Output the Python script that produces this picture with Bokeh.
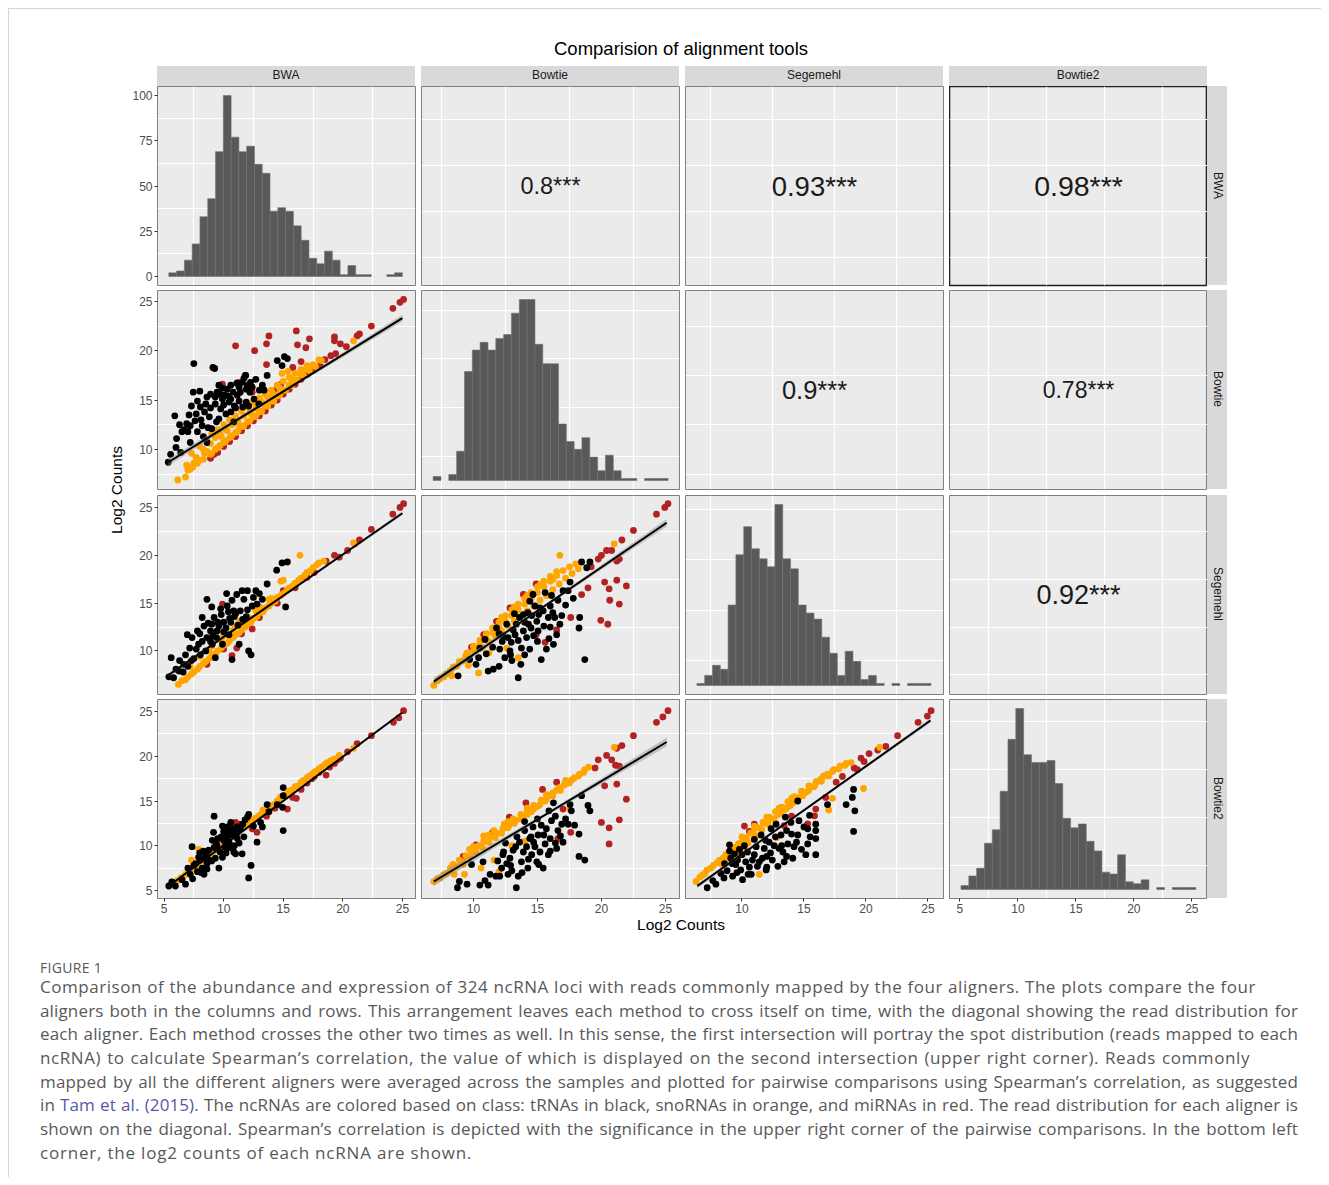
from bokeh.plotting import figure
from bokeh.models import Div, FixedTicker, Range1d
from bokeh.layouts import row, column
from bokeh.embed import file_html
from bokeh.resources import INLINE
from bokeh.core.properties import value

# ---------------- data ----------------
ALIGNERS = ["BWA", "Bowtie", "Segemehl", "Bowtie2"]
AXIS_LIMITS = {"BWA": (4.45, 26.1), "Bowtie": (5.94, 26.1),
               "Segemehl": (5.45, 26.25), "Bowtie2": (4.1, 26.35)}
LOG2_TICKS = [5, 10, 15, 20, 25]
COUNT_TICKS = [0, 25, 50, 75, 100]
LOG2_GRID = [7.5, 12.5, 17.5, 22.5]
COUNT_GRID = [12.5, 37.5, 62.5, 87.5]

# histograms on the diagonal (30 bins between lo and hi)
hist_range = {"BWA": (5.40, 25.0), "Bowtie": (6.85, 25.21),
              "Segemehl": (6.37, 25.24), "Bowtie2": (5.09, 25.35)}
bwa_counts = [2, 3, 9, 18, 33, 43, 69, 100, 77, 69, 72, 62, 57, 36, 38,
              36, 28, 20, 10, 7, 14, 9, 1, 6, 1, 1, 0, 0, 1, 2]
bowtie_counts = [2, 0, 3, 15, 56, 67, 71, 67, 73, 75, 86, 93, 93, 70, 60,
                 60, 29, 20, 16, 22, 12, 5, 13, 5, 1, 1, 0, 1, 1, 1]
segemehl_counts = [1, 5, 10, 8, 40, 65, 79, 68, 63, 59, 90, 63, 58, 40, 36,
                   33, 24, 16, 5, 17, 12, 3, 5, 1, 0, 1, 0, 1, 1, 1]
bowtie2_counts = [2, 7, 11, 24, 31, 51, 78, 94, 70, 66, 66, 67, 55, 37, 32,
                  34, 25, 20, 9, 8, 18, 4, 3, 5, 0, 1, 0, 1, 1, 1]
HIST_COUNTS = {"BWA": bwa_counts, "Bowtie": bowtie_counts,
               "Segemehl": segemehl_counts, "Bowtie2": bowtie2_counts}

# Spearman correlations (upper triangle)
cor_labels = {(0, 1): "0.8***", (0, 2): "0.93***", (0, 3): "0.98***",
              (1, 2): "0.9***", (1, 3): "0.78***", (2, 3): "0.92***"}

# scatter points (x = column aligner, y = row aligner), per ncRNA class
bwa_bowtie_trna = [(5.35, 8.7), (5.55, 9.5), (5.9, 13.4), (6.05, 11.1), (6.4, 9.7), (6.5, 11.8), (6.9, 12.6),
    (7.1, 13.5), (7.2, 10.7), (7.45, 15.8), (7.5, 18.7), (7.8, 11.8), (7.8, 14.9), (8.05, 14.3), (8.2, 12.4),
    (8.4, 13.8), (8.6, 15.3), (8.6, 10.7), (8.8, 13.3), (9.1, 18.3), (9.25, 18.2), (9.3, 14.6), (9.45, 15.8),
    (9.6, 16.5), (9.6, 13.1), (9.75, 14.1), (9.9, 15.1), (10.1, 15.5), (10.3, 16.1), (10.45, 14.8), (10.6, 16.5),
    (10.8, 15.8), (10.85, 12.8), (10.9, 14.4), (11.15, 15.5), (11.3, 16.3), (11.4, 15.8), (11.55, 16.8),
    (11.7, 17.2), (11.85, 17.5), (12.0, 16.5), (12.25, 16.8), (12.55, 15.1), (12.95, 14.6), (13.25, 16.5),
    (13.65, 17.5), (14.5, 19.0), (14.9, 18.5), (15.35, 19.2), (15.1, 19.4), (8.0, 15.9), (8.9, 15.6),
    (9.9, 16.2), (10.4, 15.4), (11.0, 14.2), (7.3, 14.4), (6.3, 12.5), (7.0, 11.8), (8.3, 11.3), (9.0, 12.1),
    (10.2, 13.6), (11.6, 14.3), (12.2, 15.8), (13.0, 16.0), (11.9, 14.8), (6.0, 10.2), (7.6, 12.9),
    (6.7, 12.0), (7.2, 12.4), (7.7, 13.6), (8.1, 13.0), (8.5, 14.6), (8.9, 14.2), (9.3, 15.3), (9.7, 15.6),
    (10.0, 14.5), (10.6, 15.1), (11.1, 16.7), (11.9, 16.1), (12.4, 16.3), (12.7, 17.1), (13.4, 16.0),
    (8.7, 12.2), (9.4, 12.8), (10.6, 13.8), (11.3, 14.9), (12.1, 14.4)]
bwa_bowtie_snorna = [(6.15, 6.9), (6.8, 7.2), (7.2, 8.0), (7.5, 8.6), (7.3, 9.6), (8.0, 8.9), (8.0, 10.3),
    (8.4, 9.6), (8.6, 11.0), (9.0, 9.6), (9.0, 11.6), (9.5, 10.2), (9.5, 12.0), (10.0, 10.7), (10.0, 12.5),
    (10.5, 11.2), (10.5, 13.0), (11.0, 11.7), (11.0, 13.4), (11.5, 12.3), (11.5, 13.9), (12.0, 12.8),
    (12.0, 14.3), (12.5, 13.3), (12.5, 14.8), (13.0, 13.8), (13.0, 15.2), (13.5, 14.4), (13.5, 15.6),
    (14.0, 14.9), (14.0, 16.0), (14.5, 15.4), (14.5, 16.5), (15.0, 16.0), (15.0, 16.9), (15.5, 16.5),
    (15.5, 17.3), (16.0, 17.0), (16.0, 17.7), (16.5, 17.6), (16.5, 18.1), (17.0, 18.1), (17.0, 18.5),
    (17.5, 18.6), (18.0, 19.1), (14.9, 17.7), (15.4, 17.9), (20.9, 21.0), (6.9, 8.4), (7.7, 9.2), (8.6, 9.8),
    (9.8, 11.3), (11.2, 12.6), (12.8, 14.1), (14.2, 15.6), (10.3, 11.9), (12.3, 13.6), (13.8, 15.2),
    (8.3, 9.0), (8.3, 10.0), (8.9, 9.5), (8.9, 10.6), (9.3, 10.0), (9.3, 11.2), (9.7, 10.4), (9.7, 11.6),
    (10.2, 10.9), (10.2, 12.0), (10.7, 11.4), (10.7, 12.5), (11.2, 11.9), (11.2, 13.0), (11.7, 12.4),
    (11.7, 13.4), (12.2, 12.9), (12.2, 13.9), (12.7, 13.4), (12.7, 14.4), (13.2, 13.9), (13.2, 14.8),
    (13.7, 14.4), (13.7, 15.3), (14.2, 14.9), (14.7, 15.5), (14.7, 16.2), (15.2, 16.0), (15.7, 16.5),
    (15.7, 17.1), (16.2, 17.0), (16.7, 17.5), (17.2, 18.0), (17.7, 18.4), (18.2, 19.0), (7.0, 7.9),
    (7.4, 8.2), (7.8, 8.6)]
bwa_bowtie_mirna = [(11.0, 20.5), (12.6, 20.0), (13.6, 20.7), (13.8, 21.5), (13.6, 18.6), (16.1, 22.0),
    (17.2, 21.2), (16.2, 20.6), (16.9, 20.3), (16.5, 18.9), (15.8, 18.3), (19.3, 21.4), (19.3, 21.0),
    (19.8, 20.7), (20.3, 20.4), (21.2, 21.5), (21.4, 21.7), (22.4, 22.5), (24.2, 24.3), (24.8, 24.9),
    (25.1, 25.2), (19.4, 19.7), (19.0, 19.5), (18.1, 18.5), (14.8, 16.6), (14.5, 16.2), (9.2, 9.5),
    (9.9, 16.6), (11.2, 16.8), (12.4, 15.8), (14.2, 15.7), (8.9, 9.1), (10.0, 10.3), (11.0, 11.3),
    (12.0, 12.4), (13.0, 13.4), (14.0, 14.5), (15.0, 15.6), (16.0, 16.6), (17.0, 17.6), (11.8, 17.5),
    (9.5, 9.7), (10.5, 10.8), (11.5, 11.9), (12.5, 12.9), (13.5, 13.9), (14.5, 15.0), (15.5, 16.1),
    (16.5, 17.1), (17.5, 18.0), (18.5, 19.1)]

bwa_segemehl_trna = [(5.4, 7.3), (5.8, 7.2), (5.6, 9.3), (6.25, 7.9), (6.65, 8.6), (6.8, 9.6), (6.95, 11.7),
    (7.15, 10.3), (7.35, 11.4), (7.8, 12.1), (7.9, 10.7), (8.05, 9.6), (8.2, 13.5), (8.35, 12.6), (8.5, 10.0),
    (8.6, 11.4), (8.6, 15.4), (8.9, 12.1), (9.05, 10.7), (9.2, 13.5), (9.3, 9.3), (9.45, 12.1), (9.75, 14.4),
    (9.9, 10.7), (10.0, 13.0), (10.25, 16.0), (10.3, 14.7), (10.45, 11.7), (10.7, 9.1), (10.85, 14.2),
    (11.1, 15.9), (11.3, 10.7), (11.55, 16.3), (11.7, 15.4), (12.0, 16.3), (12.1, 10.0), (12.3, 9.6),
    (12.4, 14.7), (12.8, 14.9), (13.25, 15.4), (13.65, 17.0), (14.45, 18.45), (14.9, 19.2), (15.35, 19.3),
    (15.2, 14.6), (9.5, 13.0), (10.5, 13.4), (11.0, 13.9), (9.0, 14.6), (10.7, 15.3), (11.4, 14.2), (7.5, 9.2),
    (8.9, 11.0), (6.3, 9.0), (7.0, 8.4), (9.4, 11.4), (10.0, 12.0), (11.9, 13.6), (12.7, 16.3),
    (7.3, 9.0), (7.7, 10.2), (8.2, 11.0), (8.7, 12.9), (9.1, 11.6), (9.6, 12.6), (9.8, 13.8), (10.2, 12.4),
    (10.6, 13.0), (10.9, 13.6), (11.2, 12.7), (11.6, 13.3), (8.0, 11.8), (9.0, 12.8), (10.4, 14.1),
    (12.0, 14.3), (12.5, 15.6), (13.0, 16.0), (6.0, 8.1), (6.6, 7.8)]
bwa_segemehl_snorna = [(6.2, 6.5), (6.5, 6.9), (7.0, 7.3), (7.5, 7.8), (8.0, 8.4), (8.0, 9.4), (8.5, 8.9),
    (9.0, 9.4), (9.0, 10.5), (9.5, 10.0), (10.0, 10.6), (10.0, 11.6), (10.5, 11.1), (11.0, 11.7), (11.0, 12.6),
    (11.5, 12.2), (12.0, 12.8), (12.0, 13.6), (12.5, 13.4), (13.0, 14.0), (13.0, 14.6), (13.5, 14.5),
    (14.0, 15.0), (14.0, 15.5), (14.5, 15.6), (15.0, 16.0), (15.5, 16.6), (16.0, 17.1), (16.5, 17.6),
    (17.0, 18.2), (17.5, 18.7), (18.0, 19.2), (14.8, 17.3), (15.0, 17.4), (16.4, 20.0), (20.9, 21.3),
    (7.2, 8.4), (9.6, 11.2), (11.3, 13.1), (12.7, 14.2), (6.8, 7.0), (7.3, 7.6), (7.8, 8.1), (8.3, 8.7),
    (8.8, 9.2), (9.3, 9.7), (9.8, 10.3), (10.3, 10.8), (10.8, 11.4), (11.3, 11.9), (11.8, 12.5), (12.3, 13.0),
    (12.8, 13.6), (13.3, 14.1), (13.8, 14.7), (14.3, 15.2), (14.8, 15.8), (15.3, 16.3), (15.8, 16.8),
    (16.3, 17.4), (16.8, 17.9), (17.3, 18.4), (17.8, 19.0), (18.4, 19.4), (8.8, 10.0), (9.8, 11.2),
    (10.8, 12.2), (11.8, 13.3), (12.8, 14.3), (13.8, 15.4)]
bwa_segemehl_mirna = [(9.9, 14.9), (10.7, 9.5), (11.1, 10.3), (15.0, 16.3), (15.5, 16.5), (14.2, 15.2),
    (18.6, 19.4), (19.3, 20.0), (19.7, 19.8), (20.4, 20.5), (21.0, 21.2), (21.4, 21.6), (22.4, 22.7),
    (24.2, 24.3), (24.8, 25.0), (25.1, 25.4), (17.6, 18.2), (17.0, 17.7), (8.6, 8.6), (10.0, 10.2),
    (11.5, 11.8), (13.0, 13.5), (14.5, 15.0), (16.0, 16.6), (12.4, 12.3)]

bwa_bowtie2_trna = [(5.4, 5.5), (5.65, 5.95), (5.95, 5.5), (6.5, 6.2), (6.8, 5.7), (7.0, 7.5), (7.2, 6.8),
    (7.35, 9.9), (7.65, 8.0), (7.8, 7.1), (8.05, 8.4), (8.2, 7.5), (8.35, 6.8), (8.55, 9.0), (8.6, 8.0),
    (8.75, 9.5), (9.05, 10.6), (9.15, 11.5), (9.2, 13.3), (9.3, 8.6), (9.45, 9.9), (9.6, 7.5), (9.8, 11.0),
    (9.9, 12.2), (10.1, 9.9), (10.15, 11.3), (10.3, 12.1), (10.45, 10.4), (10.6, 12.6), (10.7, 11.2),
    (10.85, 9.3), (11.0, 9.1), (11.15, 10.8), (11.15, 12.1), (11.4, 11.9), (11.55, 9.1), (11.7, 11.0),
    (12.0, 13.2), (12.1, 13.5), (12.3, 7.8), (12.1, 6.4), (12.8, 10.4), (13.1, 12.6), (13.25, 12.1),
    (13.65, 14.6), (13.8, 13.8), (14.5, 14.6), (15.0, 16.5), (15.0, 15.6), (14.95, 14.3), (15.0, 11.7),
    (8.0, 9.2), (9.0, 8.3), (10.0, 10.6), (10.5, 11.6), (9.4, 10.2), (8.4, 8.6), (7.5, 7.8), (11.0, 11.8),
    (10.2, 9.2), (7.9, 8.7), (8.3, 9.4), (8.8, 8.4), (9.2, 9.8), (9.5, 10.8), (9.7, 9.3), (10.0, 11.6),
    (10.3, 10.9), (10.5, 9.8), (10.8, 11.9), (11.1, 11.4), (11.3, 10.3), (11.6, 12.4), (8.6, 7.4), (7.4, 6.3),
    (8.1, 7.0), (9.9, 8.7), (10.9, 10.0), (11.8, 12.9), (12.5, 12.2)]
bwa_bowtie2_snorna = [(6.1, 6.1), (6.6, 6.5), (7.0, 7.0), (7.5, 7.6), (7.9, 9.6), (8.0, 8.2), (8.5, 8.7),
    (9.0, 9.3), (9.5, 9.8), (10.0, 10.3), (10.5, 10.8), (11.0, 11.3), (11.5, 11.9), (12.0, 12.4), (12.5, 12.9),
    (13.0, 13.4), (13.5, 13.9), (14.0, 14.5), (14.5, 15.0), (15.0, 15.5), (15.5, 16.1), (16.0, 16.6),
    (16.5, 17.1), (17.0, 17.6), (17.5, 18.1), (18.0, 18.6), (18.5, 19.1), (19.0, 19.5), (20.9, 20.9),
    (7.3, 8.4), (12.2, 13.0), (13.3, 14.0), (14.8, 15.5), (9.8, 10.6), (6.4, 6.4), (6.8, 6.8), (7.3, 7.4),
    (7.7, 7.8), (8.2, 8.4), (8.7, 8.9), (9.2, 9.4), (9.7, 9.9), (10.2, 10.5), (10.7, 11.0), (11.2, 11.5),
    (11.7, 12.0), (12.2, 12.6), (12.7, 13.1), (13.2, 13.6), (13.7, 14.1), (14.2, 14.6), (14.7, 15.2),
    (15.2, 15.7), (15.7, 16.2), (16.2, 16.7), (16.7, 17.3), (17.2, 17.8), (17.7, 18.3), (18.2, 18.8),
    (18.7, 19.3), (19.3, 19.7), (19.7, 20.1)]
bwa_bowtie2_mirna = [(11.0, 12.6), (11.3, 12.4), (12.4, 11.9), (12.8, 11.5), (15.8, 15.4), (16.1, 15.3),
    (15.35, 14.1), (18.6, 17.9), (19.3, 19.2), (19.55, 19.6), (20.4, 20.5), (21.2, 21.4), (22.4, 22.3),
    (24.25, 23.8), (24.7, 24.3), (25.1, 25.1), (17.6, 17.75), (17.0, 17.0), (16.5, 16.3), (14.3, 14.2),
    (13.6, 13.3), (17.4, 17.5), (18.0, 18.2), (18.9, 18.8), (19.8, 19.8)]

bowtie_segemehl_trna = [(8.8, 7.4), (9.7, 9.1), (10.4, 9.3), (10.5, 10.3), (10.9, 11.2), (11.15, 7.9),
    (11.55, 8.1), (11.8, 12.4), (12.05, 10.2), (12.25, 11.0), (12.45, 9.3), (12.6, 12.8), (12.85, 10.0),
    (12.95, 10.9), (13.25, 11.7), (13.35, 12.8), (13.5, 7.2), (13.6, 13.5), (13.75, 10.3), (13.9, 12.1),
    (14.0, 13.0), (14.15, 11.4), (14.25, 14.0), (14.4, 15.2), (14.55, 13.7), (14.65, 15.9), (14.8, 14.7),
    (14.95, 13.1), (15.05, 12.1), (15.2, 14.5), (15.3, 9.1), (15.45, 14.2), (15.6, 16.1), (15.7, 10.2),
    (15.85, 13.5), (16.0, 14.7), (16.1, 15.8), (16.25, 10.7), (16.35, 13.5), (16.5, 11.7), (16.75, 12.8),
    (16.9, 13.7), (17.0, 16.3), (17.4, 16.3), (17.55, 17.2), (18.25, 12.4), (18.3, 13.5), (18.45, 19.3),
    (18.7, 9.1), (18.85, 18.7), (19.1, 19.3), (11.0, 9.7), (12.0, 8.4), (13.0, 9.0), (14.0, 9.6), (15.0, 11.0),
    (13.2, 13.9), (14.5, 12.4), (16.0, 12.5), (12.3, 11.6), (10.2, 8.6), (11.5, 10.4), (12.0, 11.8),
    (12.7, 11.4), (13.1, 12.2), (13.5, 11.1), (13.9, 13.8), (14.3, 12.8), (14.7, 11.6), (15.1, 13.8),
    (15.5, 12.6), (16.2, 14.0), (17.2, 14.8), (13.7, 8.6), (12.9, 9.6), (14.4, 10.2), (15.9, 11.3),
    (16.6, 15.3), (17.8, 15.5)]
bowtie_segemehl_snorna = [(6.9, 6.4), (7.4, 7.1), (7.9, 7.6), (8.3, 7.4), (8.4, 8.3), (8.9, 8.9), (9.4, 9.5),
    (9.5, 9.8), (10.0, 10.0), (10.0, 10.5), (10.5, 10.7), (10.5, 11.1), (11.0, 11.3), (11.0, 11.8),
    (11.5, 11.9), (11.5, 12.4), (12.0, 12.5), (12.0, 13.0), (12.5, 13.1), (12.5, 13.7), (13.0, 13.7),
    (13.0, 14.3), (13.5, 14.3), (13.5, 14.9), (14.0, 14.9), (14.0, 15.5), (14.5, 15.5), (14.5, 16.1),
    (15.0, 16.1), (15.0, 16.7), (15.5, 16.7), (15.5, 17.3), (16.0, 17.3), (16.0, 17.8), (16.5, 17.9),
    (16.5, 18.3), (17.0, 18.4), (17.5, 18.8), (18.0, 19.1), (16.75, 20.0), (21.0, 21.2), (10.4, 7.7),
    (12.6, 10.3), (13.5, 9.3), (9.6, 8.5), (11.2, 9.8), (7.2, 6.9), (7.7, 7.3), (8.2, 7.9), (8.7, 8.4),
    (9.2, 9.0), (9.7, 9.3), (10.2, 10.2), (10.7, 10.4), (11.2, 11.0), (11.7, 11.6), (12.2, 12.1),
    (12.7, 12.6), (13.2, 13.1), (13.7, 13.6), (14.2, 14.2), (14.7, 14.7), (15.2, 15.3), (15.7, 15.8),
    (16.2, 16.4), (16.7, 17.0), (17.2, 17.6), (17.7, 18.1), (18.2, 18.6), (12.2, 13.5), (13.2, 14.6),
    (14.2, 15.8), (15.2, 16.9), (16.2, 17.5)]
bowtie_segemehl_mirna = [(24.3, 24.3), (24.95, 25.0), (25.2, 25.4), (22.5, 22.6), (21.6, 21.6), (20.8, 20.5),
    (20.4, 20.5), (19.75, 19.6), (20.0, 20.0), (21.2, 19.4), (21.4, 19.6), (20.25, 17.2), (21.2, 17.4),
    (21.95, 16.8), (18.95, 16.6), (20.6, 16.5), (18.45, 15.9), (20.65, 15.3), (21.4, 14.9), (17.6, 13.5),
    (19.95, 13.2), (20.5, 12.8), (14.9, 11.7), (15.6, 10.9), (16.5, 12.2), (9.85, 10.4), (10.8, 11.7),
    (11.8, 13.1), (12.85, 14.5), (13.9, 15.9), (14.9, 17.0), (19.2, 18.8)]

bowtie_bowtie2_trna = [(8.75, 5.3), (8.9, 6.0), (9.5, 5.7), (10.5, 5.6), (11.15, 5.6), (11.3, 6.8),
    (11.75, 6.6), (12.05, 6.6), (12.2, 7.5), (12.35, 9.3), (12.6, 8.0), (12.85, 8.6), (13.1, 9.5), (13.35, 5.3),
    (13.5, 6.6), (13.6, 10.4), (13.75, 8.2), (13.9, 9.3), (14.0, 11.7), (14.15, 9.9), (14.25, 7.5),
    (14.4, 10.8), (14.55, 9.0), (14.65, 12.1), (14.8, 9.9), (14.95, 8.2), (15.05, 11.2), (15.2, 9.3),
    (15.3, 12.3), (15.45, 7.5), (15.6, 10.2), (15.7, 11.9), (15.85, 9.0), (16.0, 10.8), (16.1, 12.8),
    (16.25, 14.8), (16.5, 9.7), (16.6, 11.7), (16.9, 12.4), (17.0, 10.4), (17.4, 12.4), (17.55, 14.6),
    (17.65, 13.9), (18.25, 11.3), (18.25, 8.8), (18.45, 15.6), (18.7, 8.4), (18.95, 14.5), (19.1, 13.9),
    (12.3, 9.0), (12.7, 6.8), (10.75, 8.2), (9.85, 7.9), (13.0, 7.2), (14.5, 11.0), (15.0, 13.0), (16.4, 13.3),
    (12.9, 7.8), (13.3, 9.9), (13.8, 7.0), (14.3, 8.5), (14.7, 10.4), (15.1, 7.9), (15.5, 11.2), (16.0, 9.4),
    (16.4, 10.3), (16.8, 11.1), (17.2, 13.0), (15.9, 13.9), (14.0, 12.7), (13.4, 11.0), (12.5, 10.3),
    (11.9, 8.3), (10.9, 6.1), (17.9, 12.3)]
bowtie_bowtie2_snorna = [(6.9, 6.0), (7.4, 6.4), (7.9, 6.9), (8.2, 7.5), (8.4, 7.9), (8.9, 8.4), (9.2, 7.9),
    (9.4, 8.9), (9.9, 9.3), (10.0, 9.9), (10.4, 10.0), (10.8, 10.5), (10.8, 11.1), (11.3, 11.0), (11.6, 11.7),
    (11.8, 11.4), (12.3, 11.9), (12.4, 12.4), (12.8, 12.3), (13.1, 13.0), (13.3, 12.8), (13.7, 13.5),
    (13.9, 13.3), (14.2, 14.0), (14.5, 13.8), (14.7, 14.5), (15.0, 14.4), (15.3, 15.1), (15.6, 15.0),
    (15.9, 15.6), (16.2, 15.6), (16.5, 16.2), (16.8, 16.2), (17.1, 16.8), (17.5, 17.0), (17.9, 17.6),
    (18.3, 18.0), (18.7, 18.5), (19.0, 18.8), (21.0, 21.0), (8.5, 6.8), (9.3, 6.8), (10.6, 7.5), (11.6, 8.4),
    (12.0, 7.1), (17.5, 14.1), (13.0, 10.0), (14.0, 10.5), (7.2, 6.3), (7.7, 6.8), (8.2, 7.2), (8.7, 7.7),
    (9.2, 8.2), (9.7, 8.8), (10.2, 9.3), (10.7, 9.8), (11.2, 10.4), (11.7, 10.9), (12.2, 11.4), (12.7, 12.0),
    (13.2, 12.5), (13.7, 13.0), (14.2, 13.5), (14.7, 14.1), (15.2, 14.6), (15.7, 15.2), (16.2, 15.9),
    (16.7, 16.5), (17.2, 17.0), (17.7, 17.4), (18.2, 17.8), (18.6, 18.2), (9.7, 9.6), (11.2, 11.2),
    (12.7, 12.7), (14.2, 14.2), (15.7, 15.7), (17.2, 17.3)]
bowtie_bowtie2_mirna = [(25.2, 25.1), (24.8, 24.4), (24.3, 23.8), (22.5, 22.3), (21.6, 21.2), (21.2, 20.9),
    (19.75, 19.6), (20.4, 20.1), (20.8, 19.6), (21.1, 19.0), (21.4, 18.9), (19.5, 18.7), (20.25, 16.7),
    (21.2, 16.9), (21.95, 15.2), (20.0, 12.6), (20.6, 12.0), (21.4, 12.9), (20.6, 10.2), (17.0, 14.1),
    (17.6, 11.5), (16.6, 10.8), (9.2, 8.8), (10.2, 10.1), (11.5, 11.5), (12.8, 13.2), (14.1, 14.8),
    (15.4, 16.3), (16.5, 17.1)]

segemehl_bowtie2_trna = [(7.2, 5.3), (7.65, 6.1), (7.9, 5.7), (8.3, 6.9), (8.55, 6.4), (9.0, 10.1), (9.1, 8.6),
    (9.25, 6.6), (9.4, 9.1), (9.5, 7.9), (9.65, 8.4), (9.9, 7.3), (10.05, 6.2), (10.3, 8.2), (10.45, 9.3),
    (10.75, 6.8), (10.85, 8.4), (11.15, 9.9), (11.25, 7.7), (11.55, 11.2), (11.65, 8.6), (11.8, 9.7),
    (11.95, 7.3), (12.2, 10.4), (12.35, 11.9), (12.45, 8.4), (12.75, 12.4), (12.9, 7.7), (13.0, 9.7),
    (13.15, 11.2), (13.3, 9.3), (13.4, 8.2), (13.6, 11.7), (13.7, 10.2), (13.95, 12.6), (14.1, 8.6),
    (14.2, 9.9), (14.5, 15.0), (14.5, 11.2), (14.6, 12.8), (15.15, 9.0), (15.3, 11.9), (15.3, 10.2),
    (15.45, 13.4), (15.95, 12.4), (15.95, 11.7), (15.95, 10.8), (15.95, 9.0), (16.9, 14.6), (18.4, 14.6),
    (19.0, 16.3), (18.9, 15.4), (19.1, 13.9), (19.0, 11.6), (8.8, 7.2), (10.5, 6.8), (9.8, 9.6), (11.0, 10.7),
    (12.0, 8.8), (12.6, 10.0), (13.5, 13.2), (9.2, 8.0), (9.6, 7.0), (10.0, 9.0), (10.6, 7.6), (11.0, 9.0),
    (11.4, 8.2), (11.9, 10.6), (12.3, 9.2), (12.7, 11.0), (13.2, 10.0), (13.6, 8.8), (14.0, 11.3),
    (14.4, 10.4), (14.8, 9.6), (15.0, 12.1), (15.5, 11.0), (10.2, 10.0), (9.0, 9.4), (8.6, 8.0), (12.0, 7.6)]
segemehl_bowtie2_snorna = [(6.3, 6.0), (6.8, 6.7), (7.2, 7.3), (7.7, 7.8), (8.2, 8.4), (8.4, 7.9), (8.7, 9.0),
    (9.0, 8.6), (9.2, 9.6), (9.7, 10.2), (9.9, 9.5), (10.2, 10.8), (10.5, 10.3), (10.7, 11.4), (11.1, 11.1),
    (11.2, 12.0), (11.6, 11.8), (11.7, 12.6), (12.1, 12.4), (12.2, 13.2), (12.6, 13.0), (12.7, 13.8),
    (13.1, 13.6), (13.2, 14.3), (13.6, 14.2), (13.7, 14.9), (14.1, 14.8), (14.2, 15.5), (14.6, 15.4),
    (14.8, 16.1), (15.2, 16.0), (15.4, 16.7), (15.8, 16.6), (16.0, 17.2), (16.4, 17.2), (16.6, 17.8),
    (17.0, 17.8), (17.3, 18.3), (17.8, 18.6), (18.3, 19.0), (18.8, 19.3), (21.1, 21.0), (19.8, 16.4),
    (17.3, 15.3), (17.0, 14.0), (11.4, 6.8), (9.5, 9.1), (12.8, 10.9), (6.6, 6.5), (7.0, 6.9), (7.5, 7.5),
    (8.0, 8.1), (8.5, 8.6), (8.9, 9.2), (9.4, 9.8), (9.9, 10.3), (10.4, 10.9), (10.9, 11.5), (11.4, 12.0),
    (11.9, 12.5), (12.4, 13.0), (12.9, 13.5), (13.4, 14.0), (13.9, 14.5), (14.4, 15.1), (14.9, 15.6),
    (15.4, 16.2), (15.9, 16.8), (16.4, 17.5), (16.9, 18.0), (17.4, 18.5), (17.9, 18.9), (18.4, 19.2),
    (10.0, 11.0), (11.0, 12.2), (12.0, 13.2), (13.0, 14.2), (14.0, 15.3)]
segemehl_bowtie2_mirna = [(25.25, 25.1), (24.95, 24.5), (24.2, 23.8), (22.55, 22.3), (21.6, 21.1),
    (20.95, 20.7), (20.25, 20.3), (19.6, 19.8), (19.85, 19.4), (19.05, 18.7), (19.3, 18.5), (18.1, 17.75),
    (16.75, 15.4), (15.95, 14.1), (15.85, 13.35), (15.3, 12.45), (10.2, 12.2), (11.0, 12.4), (10.6, 11.6),
    (13.4, 12.25), (17.6, 17.1), (14.0, 13.3)]

# linear fits (x0, y0, x1, y1) and half-width of the confidence band at the ends
bwa_bowtie_fit = (5.35, 8.7, 25.0, 23.3, 0.35)
bwa_segemehl_fit = (5.4, 7.5, 25.0, 24.4, 0.2)
bwa_bowtie2_fit = (5.4, 5.5, 25.0, 24.9, 0.15)
bowtie_segemehl_fit = (6.9, 6.8, 25.1, 23.4, 0.4)
bowtie_bowtie2_fit = (6.9, 6.0, 25.1, 21.6, 0.5)
segemehl_bowtie2_fit = (6.4, 5.5, 25.2, 24.0, 0.25)

SCATTER = {
    (1, 0): (bwa_bowtie_mirna, bwa_bowtie_snorna, bwa_bowtie_trna, bwa_bowtie_fit),
    (2, 0): (bwa_segemehl_mirna, bwa_segemehl_snorna, bwa_segemehl_trna, bwa_segemehl_fit),
    (3, 0): (bwa_bowtie2_mirna, bwa_bowtie2_snorna, bwa_bowtie2_trna, bwa_bowtie2_fit),
    (2, 1): (bowtie_segemehl_mirna, bowtie_segemehl_snorna, bowtie_segemehl_trna, bowtie_segemehl_fit),
    (3, 1): (bowtie_bowtie2_mirna, bowtie_bowtie2_snorna, bowtie_bowtie2_trna, bowtie_bowtie2_fit),
    (3, 2): (segemehl_bowtie2_mirna, segemehl_bowtie2_snorna, segemehl_bowtie2_trna, segemehl_bowtie2_fit),
}

# ---------------- style ----------------
FONT = "Liberation Sans"
CLASS_COLORS = ["#B22222", "#FFA500", "#000000"]  # miRNA, snoRNA, tRNA
COR_FONT_PX = {(0, 1): 23.5, (0, 2): 27.5, (0, 3): 28.5, (1, 2): 25.5, (1, 3): 23, (2, 3): 27}
FRAME_W, FRAME_H = 258, 199
GAP_BELOW = [5, 6, 5, 20]
LEFT_BORDER = 30
YTITLE_W = 118
STRIP = "#D9D9D9"


def style_axis(ax, ticks):
    ax.ticker = FixedTicker(ticks=ticks)
    ax.major_label_text_font = FONT
    ax.major_label_text_font_size = "12px"
    ax.major_label_text_color = "#4d4d4d"
    ax.major_tick_line_color = "#333333"
    ax.major_tick_out = 3
    ax.major_tick_in = 0
    ax.minor_tick_line_color = None
    ax.axis_line_color = None
    ax.major_label_standoff = 2


def panel(i, j):
    xv, yv = ALIGNERS[j], ALIGNERS[i]
    left = LEFT_BORDER if j == 0 else 0
    right = 6 if j < 3 else 0
    bottom = GAP_BELOW[i]
    if i == j:
        ymax = max(HIST_COUNTS[xv])
        yr = Range1d(-0.05 * ymax, 1.05 * ymax)
    else:
        yr = Range1d(*AXIS_LIMITS[yv])
    dark = (i, j) == (0, 3)
    p = figure(width=left + FRAME_W + right, height=FRAME_H + bottom,
               x_range=Range1d(*AXIS_LIMITS[xv]), y_range=yr,
               x_axis_location="below" if i == 3 else None,
               y_axis_location="left" if j == 0 else None,
               min_border_left=left, min_border_right=right,
               min_border_top=0, min_border_bottom=bottom,
               toolbar_location=None, tools="", output_backend="svg", title=None,
               background_fill_color="#EBEBEB", border_fill_color="white",
               outline_line_color="#1f1f1f" if dark else "#7f7f7f",
               outline_line_width=1.6 if dark else 1)
    p.xgrid.ticker = FixedTicker(ticks=LOG2_GRID)
    p.ygrid.ticker = FixedTicker(ticks=COUNT_GRID if i == j else LOG2_GRID)
    for g in p.grid:
        g.grid_line_color = "white"
        g.grid_line_width = 1.2
    if i == 3:
        style_axis(p.xaxis[0], LOG2_TICKS)
    if j == 0:
        style_axis(p.yaxis[0], COUNT_TICKS if i == 0 else LOG2_TICKS)

    if i == j:
        lo, hi = hist_range[xv]
        counts = HIST_COUNTS[xv]
        w = (hi - lo) / len(counts)
        lefts = [lo + k * w for k, c in enumerate(counts) if c > 0]
        tops = [c for c in counts if c > 0]
        p.quad(left=lefts, right=[l + w for l in lefts], bottom=0, top=tops,
               fill_color="#595959", line_color="#707070", line_width=0.6)
    elif i < j:
        xl, yl = AXIS_LIMITS[xv], AXIS_LIMITS[yv]
        p.text(x=[(xl[0] + xl[1]) / 2], y=[(yl[0] + yl[1]) / 2], text=[cor_labels[(i, j)]],
               text_font=value(FONT), text_font_size=f"{COR_FONT_PX[(i, j)]}px",
               text_align="center", text_baseline="middle", text_color="#1a1a1a")
    else:
        mir, sno, trna, fit = SCATTER[(i, j)]
        for pts, col in zip((mir, sno, trna), CLASS_COLORS):
            p.scatter([a for a, b in pts], [b for a, b in pts], size=6.8,
                      fill_color=col, line_color=None)
        x0, y0, x1, y1, hw = fit
        xs = [x0, (x0 + x1) / 2, x1]
        ys = [y0, (y0 + y1) / 2, y1]
        hws = [hw, hw * 0.35, hw]
        p.varea(x=xs, y1=[y - h for y, h in zip(ys, hws)], y2=[y + h for y, h in zip(ys, hws)],
                fill_color="#8c8c8c", fill_alpha=0.45)
        p.line([x0, x1], [y0, y1], line_color="black", line_width=2)
    return p


def html_div(html, w, h, margin=(0, 0, 0, 0)):
    return Div(text=html, width=w, height=h, margin=margin, styles={"overflow": "visible"})


STRIP_TXT = f"font-family:'{FONT}';font-size:12px;color:#1a1a1a;"

# top strips
strip_children = [html_div("", LEFT_BORDER, 20)]
for j, name in enumerate(ALIGNERS):
    strip_children.append(html_div(
        f'<div style="width:{FRAME_W}px;height:20px;background:{STRIP};display:flex;'
        f'align-items:center;justify-content:center;{STRIP_TXT}">{name}</div>',
        FRAME_W, 20, margin=(0, 6 if j < 3 else 0, 0, 0)))
strip_row = row(*strip_children)

grid_rows = [strip_row]
for i in range(4):
    figs = [panel(i, j) for j in range(4)]
    rstrip = html_div(
        f'<div style="width:20px;height:{FRAME_H}px;background:{STRIP};display:flex;'
        f'align-items:center;justify-content:center;"><span style="writing-mode:vertical-rl;'
        f'{STRIP_TXT}">{ALIGNERS[i]}</span></div>',
        20, FRAME_H, margin=(0, 0, GAP_BELOW[i], 0))
    grid_rows.append(row(*figs, rstrip))
grid_col = column(*grid_rows)

grid_h = 20 + sum(FRAME_H + g for g in GAP_BELOW)
ytitle = html_div(
    f'<div style="position:relative;width:{YTITLE_W}px;height:{grid_h}px;">'
    f'<div style="position:absolute;left:108px;top:424px;transform:translate(-50%,-50%) rotate(-90deg);'
    f"white-space:nowrap;font-family:'{FONT}';font-size:15.5px;color:#000;\">Log2 Counts</div></div>",
    YTITLE_W, grid_h)

ROOT_W = 1312
header = html_div(
    f'<div style="position:relative;width:{ROOT_W}px;height:57px;">'
    f'<div style="position:absolute;left:672px;top:40px;transform:translate(-50%,-50%);white-space:nowrap;'
    f"font-family:'{FONT}';font-size:18.5px;color:#000;\">Comparision of alignment tools</div></div>",
    ROOT_W, 57)

xtitle = html_div(
    f'<div style="position:relative;width:{ROOT_W}px;height:16px;">'
    f'<div style="position:absolute;left:672px;top:7px;transform:translate(-50%,-50%);white-space:nowrap;'
    f"font-family:'{FONT}';font-size:15.5px;color:#000;\">Log2 Counts</div></div>",
    ROOT_W, 16)

# caption: (text, justified width or 0, letter spacing in px)
caption_lines = [
    ("Comparison of the abundance and expression of 324 ncRNA loci with reads commonly mapped by the four aligners. The plots compare the four", 1216, 0.55),
    ("aligners both in the columns and rows. This arrangement leaves each method to cross itself on time, with the diagonal showing the read distribution for", 1258, 0.15),
    ("each aligner. Each method crosses the other two times as well. In this sense, the first intersection will portray the spot distribution (reads mapped to each", 1258, 0.15),
    ("ncRNA) to calculate Spearman’s correlation, the value of which is displayed on the second intersection (upper right corner). Reads commonly", 1210, 0.6),
    ("mapped by all the different aligners were averaged across the samples and plotted for pairwise comparisons using Spearman’s correlation, as suggested", 1258, 0.15),
    ('in <span style="color:#5558a8">Tam et al. (2015)</span>. The ncRNAs are colored based on class: tRNAs in black, snoRNAs in orange, and miRNAs in red. The read distribution for each aligner is', 1258, 0.1),
    ("shown on the diagonal. Spearman’s correlation is depicted with the significance in the upper right corner of the pairwise comparisons. In the bottom left", 1258, 0.15),
    ("corner, the log2 counts of each ncRNA are shown.", 0, 0.8),
]
cap_html = [f'<div style="position:relative;width:{ROOT_W}px;height:243px;font-family:\'Open Sans\';color:#58585a;">',
            '<div style="position:absolute;left:31px;top:24px;height:20px;line-height:20px;font-size:14px;'
            'letter-spacing:0.3px;">FIGURE 1</div>']
for k, (txt, w, spacing) in enumerate(caption_lines):
    top = 41 + round(k * 23.7)
    width = f"width:{w}px;text-align:justify;text-align-last:justify;" if w else ""
    cap_html.append(f'<div style="position:absolute;left:31px;top:{top}px;height:24px;line-height:24px;'
                    f'font-size:17px;white-space:nowrap;letter-spacing:{spacing}px;{width}">{txt}</div>')
cap_html.append("</div>")
caption = html_div("".join(cap_html), ROOT_W, 243)

root = column(header, row(ytitle, grid_col), xtitle, caption, margin=(8, 0, 0, 8),
              styles={"border-top": "1px solid #d6d6d6", "border-left": "1px solid #d6d6d6"})

open("out.html", "w").write(file_html(root, INLINE, title="Comparision of alignment tools"))
